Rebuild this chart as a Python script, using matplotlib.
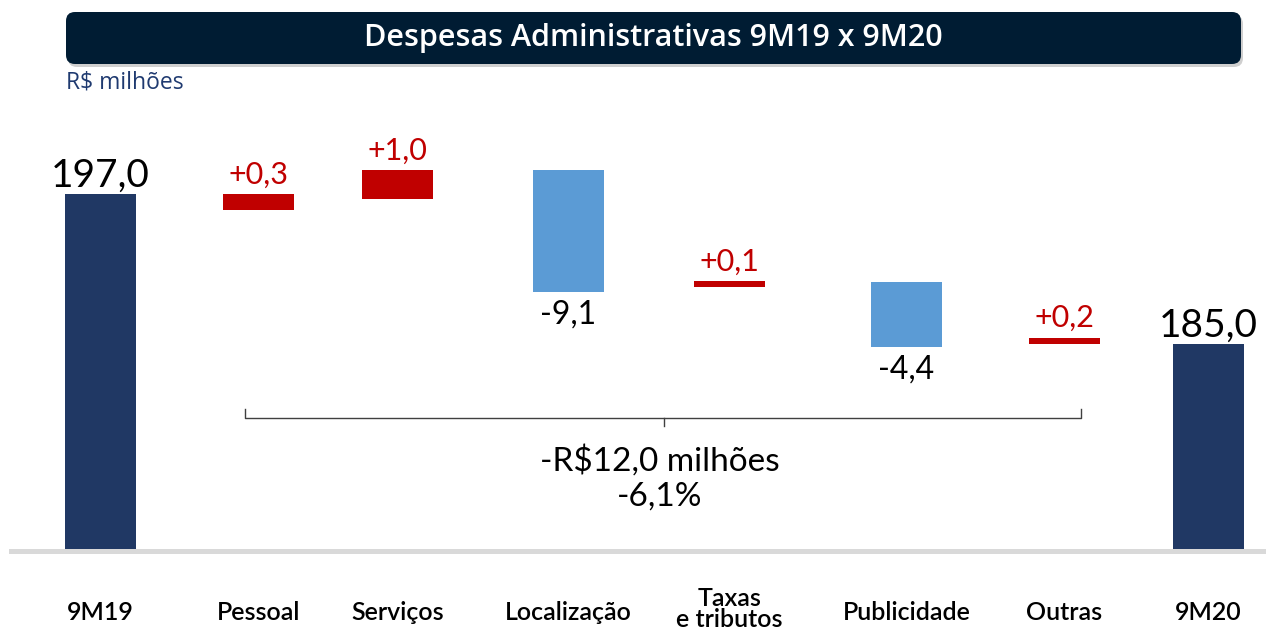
import matplotlib
matplotlib.use("Agg")
import matplotlib.pyplot as plt
from matplotlib.patches import FancyBboxPatch

# ---- data (chart units) ----
categories = ["9M19", "Pessoal", "Serviços", "Localização", "Taxas\ne tributos",
              "Publicidade", "Outras", "9M20"]
value_labels = ["197,0", "+0,3", "+1,0", "-9,1", "+0,1", "-4,4", "+0,2", "185,0"]
bar_top = [197.0, 197.0, 198.9, 198.9, 190.0, 190.0, 185.5, 185.0]
bar_bottom = [168.6, 195.7, 196.6, 189.2, 189.6, 184.8, 185.0, 168.6]
kinds = ["total", "up", "up", "down", "up", "down", "up", "total"]
summary_lines = ["-R$12,0 milhões", "-6,1%"]
title = "Despesas Administrativas 9M19 x 9M20"
unit_label = "R$ milhões"

# ---- layout / style ----
W, H = 1266, 630
x_pos = [100.5, 258.5, 397.5, 568.5, 729.5, 906.5, 1064.5, 1208.5]
bar_w = 71
colors = {"total": "#203864", "up": "#c00000", "down": "#5b9bd5"}
label_colors = {"total": "#000000", "up": "#c00000", "down": "#000000"}
FONT = ["Lato", "DejaVu Sans"]
TFONT = ["Open Sans", "DejaVu Sans"]

fig = plt.figure(figsize=(W / 100, H / 100), dpi=100)

# pixel overlay for decorations
ov = fig.add_axes([0, 0, 1, 1])
ov.set_xlim(0, W)
ov.set_ylim(H, 0)
ov.axis("off")

# data axes (full figure, x in pixel units, y in value units)
ax = fig.add_axes([0, 0, 1, 1])
ax.set_xlim(0, W)
px_per_unit = 12.5
ymax = 197.0 + 194 / px_per_unit
ymin = 197.0 - (H - 194) / px_per_unit
ax.set_ylim(ymin, ymax)
ax.axis("off")
ax.patch.set_alpha(0)

# title banner with shadow
shadow = FancyBboxPatch((68, 15), 1175, 52, boxstyle="round,pad=0,rounding_size=9",
                        fc="#b0b0b0", ec="none", alpha=0.6, zorder=1)
ov.add_patch(shadow)
banner = FancyBboxPatch((66, 12), 1175, 52, boxstyle="round,pad=0,rounding_size=9",
                        fc="#001c33", ec="none", zorder=2)
ov.add_patch(banner)
ov.text(653.5, 38, title, color="white", fontsize=22, fontweight="semibold",
        family=TFONT, ha="center", va="center", zorder=3)
ov.text(66, 83, unit_label, color="#1f3a70", fontsize=16.5,
        family=TFONT, ha="left", va="center")

# baseline
ov.add_patch(plt.Rectangle((9, 549), W - 9, 5, fc="#d9d9d9", ec="none", zorder=1))

# bars
for x, top, bot, k, lab in zip(x_pos, bar_top, bar_bottom, kinds, value_labels):
    ax.bar(x, top - bot, bottom=bot, width=bar_w, color=colors[k], zorder=3)
    if k == "down":
        ax.annotate(lab, (x, bot), xytext=(0, -6), textcoords="offset points",
                    ha="center", va="top", fontsize=23, color=label_colors[k],
                    family=FONT)
    elif k == "total":
        ax.annotate(lab, (x, top), xytext=(0, 0), textcoords="offset points",
                    ha="center", va="bottom", fontsize=28, color=label_colors[k],
                    family=FONT)
    else:
        ax.annotate(lab, (x, top), xytext=(0, 4), textcoords="offset points",
                    ha="center", va="bottom", fontsize=22, color=label_colors[k],
                    family=FONT)

# category labels
for x, c in zip(x_pos, categories):
    ov.text(x, 613 if "\n" not in c else 609, c, ha="center", va="center",
            fontsize=18, fontweight="semibold", family=FONT, color="#000000",
            linespacing=0.9)

# bracket
bx0, bx1, by = 245, 1081, 418
ov.plot([bx0, bx0, bx1, bx1], [409, by, by, 409], color="#404040", lw=1.0)
ov.plot([(bx0 + bx1) / 2 + 0.5] * 2, [by, 426], color="#404040", lw=1.0)
ov.text(660, 461, summary_lines[0], ha="center", va="center", fontsize=24,
        family=FONT, color="#000000")
ov.text(660, 497, summary_lines[1], ha="center", va="center", fontsize=24,
        family=FONT, color="#000000")

fig.savefig("out.png", dpi=100)
